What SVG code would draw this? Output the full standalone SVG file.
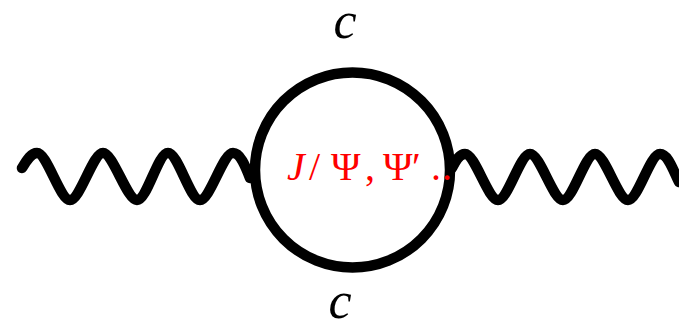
<svg xmlns="http://www.w3.org/2000/svg" width="679" height="332" viewBox="0 0 679 332">
<style>
.line{fill:none;stroke:#000;stroke-width:10.5;stroke-linecap:round;stroke-linejoin:round}
.lbl{font-family:"Liberation Serif",serif;font-style:italic;font-size:52px;fill:#000}
.red{font-family:"Liberation Serif",serif;font-size:40px;fill:#ff0000}
</style>
<rect width="679" height="332" fill="#fff"/>
<g id="connectors">
<path class="line" d="M22,168 C27,160 31,153 37,153 C47,153 60,200 70,200 C80,200 93,153 103,153 C113,153 127,200 137,200 C147,200 158,153 168,153 C178,153 190,200 200,200 C210,200 223,153 233,153 C240,153 245,165 250,178"/>
<path class="line" d="M452,168 C456,160 460,154 465,154 C475,154 488,200 498,200 C508,200 520,154 530,154 C540,154 553,200 563,200 C573,200 585,154 595,154 C605,154 618,200 628,200 C638,200 650,154 660,154 C668,154 673,170 679,182"/>
</g>
<g id="loop">
<circle class="line" cx="352.5" cy="170" r="97.5"/>
</g>
<g id="label-top"><text class="lbl" x="345" y="38" text-anchor="middle">c</text></g>
<g id="label-bottom"><text class="lbl" x="340" y="318" text-anchor="middle">c</text></g>
<g id="label-center">
<text class="red" y="180"><tspan x="287" font-style="italic">J</tspan><tspan x="309">/</tspan><tspan x="331">Ψ</tspan><tspan x="365">,</tspan><tspan x="383">Ψ</tspan><tspan x="412">′</tspan><tspan x="431">.</tspan><tspan x="442">.</tspan></text>
</g>
</svg>
